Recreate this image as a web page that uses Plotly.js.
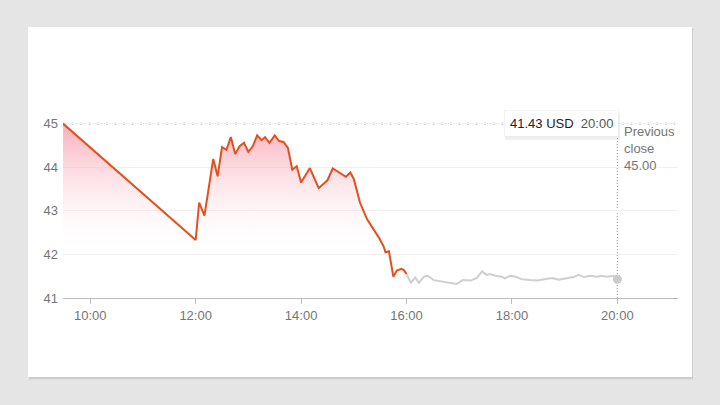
<!DOCTYPE html>
<html>
<head>
<meta charset="utf-8">
<script src="https://cdn.plot.ly/plotly-3.0.1.min.js"></script>
<style>
  html, body { margin: 0; padding: 0; background: #e6e5e6; }
  #chart { width: 720px; height: 405px; }
</style>
</head>
<body>
<div id="chart"></div>
<script>
// ---- Data ----
var day = "2024-01-02 ";

// Regular session (red)
var sessionTimes = ["09:29","12:00","12:04","12:10","12:20","12:25","12:30","12:35","12:40","12:45",
  "12:50","12:55","13:00","13:05","13:10","13:15","13:19","13:24","13:30","13:35",
  "13:40","13:45","13:50","13:55","14:00","14:10","14:20","14:26","14:30","14:36",
  "14:51","14:56","15:00","15:07","15:15","15:21","15:29","15:34","15:36","15:40",
  "15:45","15:49","15:54","15:57","16:00"];
var sessionPrices = [45.00,42.33,43.19,42.89,44.19,43.79,44.46,44.40,44.69,44.30,
  44.48,44.56,44.35,44.48,44.73,44.62,44.69,44.56,44.73,44.60,
  44.58,44.44,43.94,44.02,43.65,43.98,43.52,43.64,43.70,43.97,
  43.78,43.88,43.73,43.19,42.81,42.62,42.37,42.18,42.05,42.07,
  41.49,41.63,41.67,41.64,41.55];

// After hours (grey)
var afterTimes = ["16:00","16:05","16:10","16:14","16:20","16:24","16:31","16:40","16:52","16:57",
  "17:04","17:13","17:20","17:26","17:31","17:35","17:41","17:48","17:52","17:58",
  "18:04","18:11","18:21","18:29","18:40","18:46","18:53","19:03","19:10","19:16",
  "19:22","19:29","19:37","19:42","19:48","19:56","20:00"];
var afterPrices = [41.55,41.35,41.47,41.35,41.49,41.51,41.41,41.38,41.35,41.32,
  41.41,41.40,41.46,41.61,41.53,41.55,41.51,41.49,41.45,41.51,
  41.49,41.43,41.41,41.40,41.44,41.46,41.42,41.46,41.48,41.53,
  41.48,41.51,41.49,41.51,41.49,41.51,41.43];

var previousClose = 45.00;
var lastPrice = 41.43;
var lastTime = "20:00";
var currency = "USD";

var xTickVals = ["10:00","12:00","14:00","16:00","18:00","20:00"];
var yTickVals = [41, 42, 43, 44, 45];
var xRange = ["09:29", "21:09"];
var yRange = [41, 46];

// ---- Build ----
function ts(t) { return day + t; }

var font = "Liberation Sans, Arial, Helvetica, sans-serif";
var grey = "#757575";

var traces = [
  {
    x: sessionTimes.map(ts), y: sessionPrices,
    type: "scatter", mode: "lines",
    line: { color: "#e2501f", width: 2 },
    fill: "tozeroy",
    fillgradient: {
      type: "vertical", start: 41.9, stop: 45,
      colorscale: [[0, "rgba(255,255,255,0)"], [1, "rgba(242,90,115,0.5)"]]
    },
    hoverinfo: "skip"
  },
  {
    x: afterTimes.map(ts), y: afterPrices,
    type: "scatter", mode: "lines",
    line: { color: "#cfcfcf", width: 2 },
    hoverinfo: "skip"
  },
  {
    x: [ts(lastTime)], y: [lastPrice],
    type: "scatter", mode: "markers",
    marker: { color: "#cbcbcb", size: 9 },
    hoverinfo: "skip"
  }
];

var layout = {
  width: 720, height: 405,
  margin: { l: 63, r: 42, t: 80, b: 107 },
  paper_bgcolor: "#e6e5e6",
  plot_bgcolor: "rgba(0,0,0,0)",
  showlegend: false,
  font: { family: font, size: 13, color: grey },
  xaxis: {
    type: "date",
    range: xRange.map(ts),
    tickvals: xTickVals.map(ts),
    tickformat: "%H:%M",
    showgrid: false,
    zeroline: false,
    showline: true, linecolor: "#bdbdbd", linewidth: 1,
    ticks: "outside", ticklen: 5, tickcolor: "#bdbdbd", tickwidth: 1,
    tickfont: { family: font, size: 13, color: grey },
    fixedrange: true
  },
  yaxis: {
    range: yRange,
    tickvals: yTickVals,
    showgrid: true, gridcolor: "#f1f1f1", gridwidth: 1,
    zeroline: false,
    showline: false,
    ticks: "", ticklabelstandoff: 4,
    tickfont: { family: font, size: 13, color: grey },
    fixedrange: true
  },
  shapes: [
    // card shadow + card
    { type: "rect", xref: "paper", yref: "paper", layer: "below",
      x0: -0.0569 + 0.0016, x1: 1.0228 + 0.0016, y0: -0.3670 - 0.006, y1: 1.2431 - 0.006,
      fillcolor: "rgba(0,0,0,0.10)", line: { width: 0 } },
    { type: "rect", xref: "paper", yref: "paper", layer: "below",
      x0: -0.0569, x1: 1.0228, y0: -0.3624, y1: 1.2431,
      fillcolor: "#ffffff", line: { width: 0 } },
    // previous close dotted horizontal line
    { type: "line", xref: "paper", yref: "y", layer: "between",
      x0: 0, x1: 1, y0: previousClose, y1: previousClose,
      line: { color: "#9a9a9a", width: 1.6, dash: "1.6px,7px" } },
    // vertical dotted line at last time
    { type: "line", xref: "x", yref: "paper", layer: "between",
      x0: ts(lastTime), x1: ts(lastTime), y0: 0, y1: (previousClose - yRange[0]) / (yRange[1] - yRange[0]),
      line: { color: "#9a9a9a", width: 1, dash: "1px,2px" } },
    // tooltip shadow
    { type: "rect", xref: "paper", yref: "paper", layer: "above",
      x0: 0.7187, x1: 0.9057, y0: 0.7248, y1: 0.8486,
      fillcolor: "rgba(0,0,0,0.06)", line: { width: 0 } }
  ],
  annotations: [
    { x: ts(lastTime), y: previousClose, xref: "x", yref: "y",
      xanchor: "left", yanchor: "top", xshift: 5, yshift: 2,
      showarrow: false, align: "left",
      text: "Previous<br>close<br>" + previousClose.toFixed(2),
      font: { family: font, size: 13, color: grey } },
    { x: ts(lastTime), y: previousClose, xref: "x", yref: "y",
      xanchor: "right", yanchor: "middle", xshift: 2,
      showarrow: false, align: "center",
      bgcolor: "#ffffff", bordercolor: "rgba(0,0,0,0.05)", borderwidth: 1, borderpad: 5,
      text: '<span style="color:#222222">' + lastPrice.toFixed(2) + " " + currency + '</span>\u00a0\u00a0<span style="color:#555555">' + lastTime + "</span>",
      font: { family: font, size: 13, color: "#222222" } }
  ]
};

Plotly.newPlot("chart", traces, layout, { displayModeBar: false, staticPlot: true });
</script>
</body>
</html>
